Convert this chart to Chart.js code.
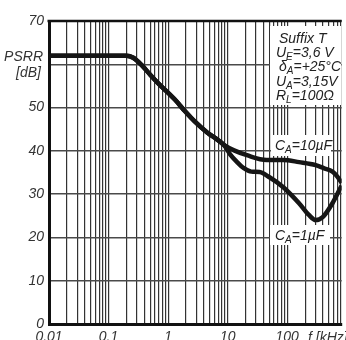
<!DOCTYPE html>
<html>
<head>
<meta charset="utf-8">
<script src="https://cdn.jsdelivr.net/npm/chart.js@4"></script>
<style>
html,body{margin:0;padding:0;overflow:hidden;background:#fff;}
#wrap{position:absolute;left:0;top:0;width:346px;height:350px;}
</style>
</head>
<body>
<div id="wrap"><canvas id="c"></canvas></div>
<script>
// ---- data ----
const sharedFreq = [0.01, 0.1, 0.2, 0.26, 0.36, 0.5, 0.684, 1.31, 1.91, 2.79, 4.58, 6.7, 8.75];
const sharedDb   = [62, 62, 62, 61.5, 59.8, 57.6, 55.6, 51.8, 49.2, 46.8, 44.2, 42.6, 41.3];
const c10Freq = [12.8, 21, 45, 86, 158, 301, 409, 575, 700, 820];
const c10Db   = [40.1, 39.0, 37.9, 37.9, 37.4, 36.7, 36.0, 35.2, 34.0, 32.6];
const c1Freq  = [11, 14.4, 18.7, 25, 34.4, 50.4, 86, 158, 231, 301, 394, 575, 820];
const c1Db    = [39.2, 37.4, 36.0, 35.2, 35.1, 33.9, 31.6, 27.9, 25.2, 24.0, 24.7, 27.9, 32.0];
const xTickLabels = ['0.01', '0.1', '1', '10', '100'];
const yTicks = [0, 10, 20, 30, 40, 50, 60, 70];
const yTitle = ['PSRR', '[dB]'];
const xTitle = 'f [kHz]';
const infoLines = [
  [['Suffix T', false]],
  [['U', false], ['E', true], ['=3,6 V', false]],
  [['δ', false], ['A', true], ['=+25°C', false]],
  [['U', false], ['A', true], ['=3,15V', false]],
  [['R', false], ['L', true], ['=100Ω', false]]
];
const label10 = [['C', false], ['A', true], ['=10µF', false]];
const label1  = [['C', false], ['A', true], ['=1µF', false]];

const FONT = "'Liberation Sans Narrow','Liberation Sans',Arial,sans-serif";

function series(f, d) { return f.map((x, i) => ({x: x, y: d[i]})); }
const upper = series(sharedFreq.concat(c10Freq), sharedDb.concat(c10Db));
const lower = series(sharedFreq.concat(c1Freq), sharedDb.concat(c1Db));

function drawRich(ctx, parts, x, y, size) {
  let cx = x;
  for (const [t, sub] of parts) {
    ctx.font = 'italic ' + (sub ? size - 4 : size) + 'px ' + FONT;
    ctx.fillText(t, cx, sub ? y + 3 : y);
    cx += ctx.measureText(t).width;
  }
}

const overlay = {
  id: 'overlay',
  afterDatasetsDraw(chart) {
    const ctx = chart.ctx, a = chart.chartArea;
    ctx.save();
    ctx.fillStyle = '#fff';
    ctx.fillRect(270, 26, 71, 79);
    ctx.fillRect(271, 135, 60, 21);
    ctx.fillRect(270, 225, 60, 20);
    ctx.fillStyle = '#222';
    ctx.textBaseline = 'alphabetic';
    ctx.textAlign = 'left';
    const base = [43, 57, 71, 86, 100];
    infoLines.forEach((ln, i) => drawRich(ctx, ln, i === 0 || i === 2 ? 279 : 276, base[i], 14));
    drawRich(ctx, label10, 275, 150, 14);
    drawRich(ctx, label1, 275, 240, 14);
    ctx.font = 'italic 14px ' + FONT;
    ctx.textAlign = 'right';
    ctx.fillStyle = '#333';
    ctx.fillText(yTitle[0], 43, 61);
    ctx.fillText(yTitle[1], 41, 77);
    ctx.textAlign = 'left';
    ctx.textBaseline = 'top';
    ctx.fillText(xTitle, 308, 331);
    ctx.strokeStyle = '#111';
    ctx.lineWidth = 2.5;
    ctx.beginPath();
    ctx.moveTo(a.left - 1.5, a.top);
    ctx.lineTo(a.right, a.top);
    ctx.stroke();
    ctx.restore();
  }
};

new Chart(document.getElementById('c'), {
  type: 'line',
  data: {
    datasets: [
      {data: upper, borderColor: '#151515', borderWidth: 4.5, pointRadius: 0, cubicInterpolationMode: 'monotone', fill: false},
      {data: lower, borderColor: '#151515', borderWidth: 4.5, pointRadius: 0, cubicInterpolationMode: 'monotone', fill: false}
    ]
  },
  options: {
    responsive: true,
    maintainAspectRatio: false,
    animation: false,
    layout: {padding: {top: 21, left: 0, right: 0, bottom: 0}},
    plugins: {legend: {display: false}, tooltip: {enabled: false}},
    scales: {
      x: {
        type: 'logarithmic',
        min: 0.01,
        max: 820,
        afterBuildTicks(scale) {
          const t = [];
          for (let e = -2; e <= 2; e++) {
            for (let m = 1; m <= 9; m++) {
              const v = m * Math.pow(10, e);
              if (v <= 820) t.push({value: v});
            }
          }
          scale.ticks = t;
        },
        afterFit(scale) { scale.height = 26; },
        ticks: {
          autoSkip: false,
          maxRotation: 0,
          padding: 5,
          color: '#333',
          font: {family: FONT, size: 14, style: 'italic'},
          callback(v) {
            const e = Math.log10(v);
            if (Math.abs(e - Math.round(e)) < 1e-6) {
              const idx = Math.round(e) + 2;
              return xTickLabels[idx] !== undefined ? xTickLabels[idx] : '';
            }
            return '';
          }
        },
        grid: {
          drawTicks: false,
          color: '#333',
          lineWidth: 1.2
        },
        border: {color: '#111', width: 3}
      },
      y: {
        min: 0,
        max: 70,
        afterBuildTicks(scale) { scale.ticks = yTicks.map(v => ({value: v})); },
        afterFit(scale) { scale.width = 49; },
        ticks: {
          padding: 5,
          color: '#333',
          font: {family: FONT, size: 14, style: 'italic'},
          callback(v) { return v === 60 ? '' : String(v); }
        },
        grid: {
          drawTicks: false,
          color: '#4a4a4a',
          lineWidth: 1.5
        },
        border: {color: '#111', width: 3}
      }
    }
  },
  plugins: [overlay]
});
</script>
</body>
</html>
